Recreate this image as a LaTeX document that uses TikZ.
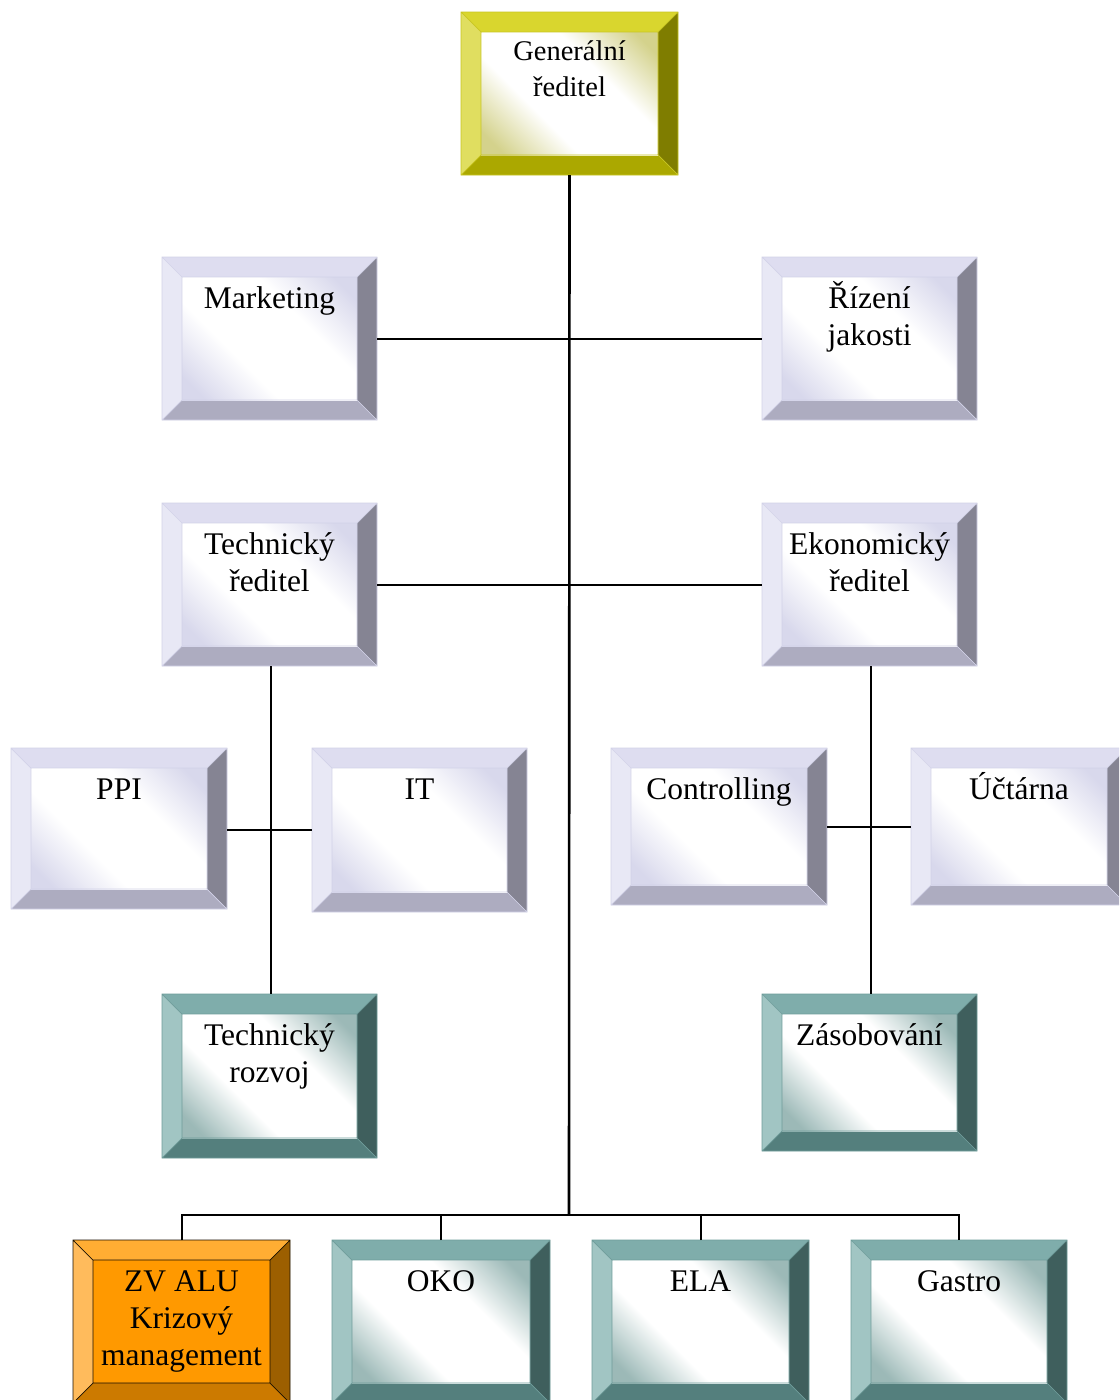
\documentclass[tikz,border=0pt]{standalone}
\usepackage{fontspec}
\setmainfont{Liberation Serif}
\definecolor{lvT}{HTML}{DEDDF0}
\definecolor{lvL}{HTML}{E8E8F5}
\definecolor{lvR}{HTML}{858493}
\definecolor{lvB}{HTML}{ADACC0}
\definecolor{lvTint}{HTML}{D8D8EC}
\definecolor{lvE}{HTML}{D2D2E8}
\definecolor{yeT}{HTML}{D9D62E}
\definecolor{yeL}{HTML}{E0DE60}
\definecolor{yeR}{HTML}{7F7D00}
\definecolor{yeB}{HTML}{ABA800}
\definecolor{yeTint}{HTML}{D4D28C}
\definecolor{yeE}{HTML}{C8C520}
\definecolor{tlT}{HTML}{7FADAB}
\definecolor{tlL}{HTML}{A1C5C3}
\definecolor{tlR}{HTML}{3F5F5D}
\definecolor{tlB}{HTML}{547F7D}
\definecolor{tlTint}{HTML}{9CB9B7}
\definecolor{tlE}{HTML}{6E9C9A}
\definecolor{orT}{HTML}{FFAD33}
\definecolor{orL}{HTML}{FFBB5C}
\definecolor{orR}{HTML}{9C5F00}
\definecolor{orB}{HTML}{CC7A00}
\definecolor{orI}{HTML}{FF9900}
\definecolor{orE}{HTML}{1A1000}
\pgfdeclareverticalshading{lvsh}{100bp}{color(0bp)=(lvTint); color(20bp)=(lvTint); color(38bp)=(white); color(62bp)=(white); color(80bp)=(lvTint); color(100bp)=(lvTint)}
\pgfdeclareverticalshading{yesh}{100bp}{color(0bp)=(yeTint); color(20bp)=(yeTint); color(38bp)=(white); color(62bp)=(white); color(80bp)=(yeTint); color(100bp)=(yeTint)}
\pgfdeclareverticalshading{tlsh}{100bp}{color(0bp)=(tlTint); color(20bp)=(tlTint); color(38bp)=(white); color(62bp)=(white); color(80bp)=(tlTint); color(100bp)=(tlTint)}
\tikzset{
  lvI/.style={shading=lvsh, shading angle=-45},
  yeI/.style={shading=yesh, shading angle=-45},
  tlI/.style={shading=tlsh, shading angle=-45},
  orI/.style={fill=orI},
  lbl/.style={anchor=north, align=center, inner sep=0pt, font=\fontsize{31.5}{37}\selectfont, text=black},
  smalllbl/.style={font=\fontsize{28.5}{36}\selectfont, yshift=3pt},
  conn/.style={line width=2pt, black},
  trunk/.style={line width=2.6pt, black},
}
\newcommand\tstrut{\rule{0pt}{28pt}}
\newcommand\bevbox[8][]{%
  \node[minimum width={(#5-#3)*1pt}, minimum height={(#6-#4)*1pt}, inner sep=0pt, outer sep=0pt] (#2) at ({(#3+#5)/2},{(#4+#6)/2}) {};
  \fill[#7T] (#3,#4) -- (#5,#4) -- ({#5-20},{#4+20}) -- ({#3+20},{#4+20}) -- cycle;
  \fill[#7L] (#3,#4) -- ({#3+20},{#4+20}) -- ({#3+20},{#6-20}) -- (#3,#6) -- cycle;
  \fill[#7R] (#5,#4) -- (#5,#6) -- ({#5-20},{#6-20}) -- ({#5-20},{#4+20}) -- cycle;
  \fill[#7B] (#3,#6) -- (#5,#6) -- ({#5-20},{#6-20}) -- ({#3+20},{#6-20}) -- cycle;
  \path[#7I] ({#3+20},{#4+20}) rectangle ({#5-20},{#6-20});
  \draw[#7E, line width=0.7pt] (#3,#4) rectangle (#5,#6) ({#3+20},{#4+20}) rectangle ({#5-20},{#6-20})
    (#3,#4) -- ({#3+20},{#4+20}) (#5,#4) -- ({#5-20},{#4+20})
    (#3,#6) -- ({#3+20},{#6-20}) (#5,#6) -- ({#5-20},{#6-20});
  \node[lbl,#1] (#2-t) at ({(#3+#5)/2},{#4+51-28}) {\tstrut#8};
}
\begin{document}
\begin{tikzpicture}[x=1pt,y=-1pt]
\useasboundingbox (0,0) rectangle (1119,1400);
\clip (0,0) rectangle (1119,1400);
\fill[white] (0,0) rectangle (1119,1400);
% boxes
\bevbox[smalllbl]{gen}{461}{12}{678}{175}{ye}{Generální\\ředitel}
\bevbox{mkt}{162}{257}{377}{420}{lv}{Marketing}
\bevbox{riz}{762}{257}{977}{420}{lv}{Řízení\\jakosti}
\bevbox{tr}{162}{503}{377}{666}{lv}{Technický\\ředitel}
\bevbox{er}{762}{503}{977}{666}{lv}{Ekonomický\\ředitel}
\bevbox{ppi}{11}{748}{227}{909}{lv}{PPI}
\bevbox{it}{312}{748}{527}{912}{lv}{IT}
\bevbox{ctl}{611}{748}{827}{905}{lv}{Controlling}
\bevbox{uct}{911}{748}{1127}{905}{lv}{Účtárna}
\bevbox{trz}{162}{994}{377}{1158}{tl}{Technický\\rozvoj}
\bevbox{zas}{762}{994}{977}{1151}{tl}{Zásobování}
\bevbox{zv}{73}{1240}{290}{1403}{or}{ZV ALU\\Krizový\\management}
\bevbox{oko}{332}{1240}{550}{1403}{tl}{OKO}
\bevbox{ela}{592}{1240}{809}{1403}{tl}{ELA}
\bevbox{gas}{851}{1240}{1067}{1403}{tl}{Gastro}
% connectors
\coordinate (bus) at (569,1215);
\draw[trunk] (gen.south) -- (bus);
\draw[conn] (mkt.east) -- (riz.west);
\draw[conn] (tr.east) -- (er.west);
\draw[trunk] ([xshift=1.5pt]tr.south) -- ([xshift=1.5pt]trz.north);
\draw[trunk] ([xshift=1.5pt]er.south) -- ([xshift=1.5pt]zas.north);
\draw[conn] ([yshift=-1.5pt]ppi.east) -- (it.west);
\draw[conn] (ctl.east) -- (uct.west);
\draw[conn] (zv.north) -- (zv.north |- bus) -- (gas.north |- bus) -- (gas.north);
\draw[conn] (oko.north) -- (oko.north |- bus);
\draw[conn] (ela.north) -- (ela.north |- bus);
\end{tikzpicture}
\end{document}
